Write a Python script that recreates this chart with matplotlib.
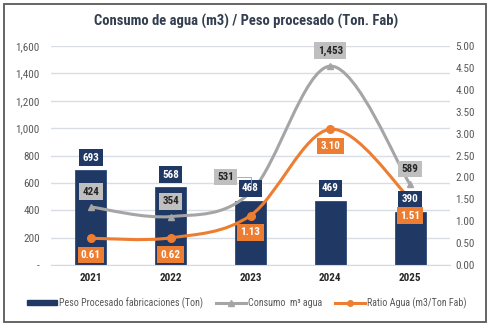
import numpy as np
import matplotlib
matplotlib.use("Agg")
import matplotlib.pyplot as plt
from matplotlib.path import Path
from matplotlib.patches import PathPatch, Rectangle
from matplotlib.lines import Line2D
from matplotlib.ticker import FuncFormatter, MultipleLocator

plt.rcParams["font.family"] = ["Roboto Condensed", "DejaVu Sans"]

years = ["2021", "2022", "2023", "2024", "2025"]
peso = [693, 568, 468, 469, 390]
consumo = [424, 354, 531, 1453, 589]
ratio = [0.61, 0.62, 1.13, 3.10, 1.51]

NAVY, GRAY, ORANGE = "#1F3864", "#A5A5A5", "#ED7D31"
TXT = "#595959"


def smooth_path(xs, ys):
    # excel-like smoothed line: catmull-rom as cubic beziers
    p = np.column_stack([xs, ys]).astype(float)
    n = len(p)
    verts, codes = [p[0]], [Path.MOVETO]
    for i in range(n - 1):
        p0 = p[i - 1] if i > 0 else p[i]
        p3 = p[i + 2] if i + 2 < n else p[i + 1]
        c1 = p[i] + (p[i + 1] - p0) / 6
        c2 = p[i + 1] - (p3 - p[i]) / 6
        verts += [c1, c2, p[i + 1]]
        codes += [Path.CURVE4] * 3
    return Path(verts, codes)


fig = plt.figure(figsize=(4.93, 3.26), dpi=100)
fig.patches.append(Rectangle((0.008, 0.012), 0.978, 0.976, transform=fig.transFigure,
                             fill=False, edgecolor="#595959", lw=1.3))
ax = fig.add_axes([51 / 493, 61 / 326, 399 / 493, 219 / 326])
ax2 = ax.twinx()

x = np.arange(len(years))
ax.bar(x, peso, width=0.39, color=NAVY, edgecolor="#2E4A7D", lw=0.6, zorder=2)
ax.add_patch(PathPatch(smooth_path(x, consumo), fill=False, edgecolor=GRAY, lw=2.2, zorder=3))
ax.plot(x, consumo, ls="none", marker="^", ms=4.5, color=GRAY, zorder=4)
ax2.add_patch(PathPatch(smooth_path(x, ratio), fill=False, edgecolor=ORANGE, lw=2.2, zorder=3))
ax2.plot(x, ratio, ls="none", marker="o", ms=5.5, color=ORANGE, zorder=4)

ax.set_xlim(-0.5, len(years) - 0.5)
ax.set_ylim(0, 1600)
ax2.set_ylim(0, 5)
ax.yaxis.set_major_locator(MultipleLocator(200))
ax2.yaxis.set_major_locator(MultipleLocator(0.5))
ax.yaxis.set_major_formatter(FuncFormatter(lambda v, p: "-" if v == 0 else f"{v:,.0f}"))
ax2.yaxis.set_major_formatter(FuncFormatter(lambda v, p: f"{v:.2f}"))
ax.set_xticks(x)
ax.set_xticklabels(years, fontweight="bold")
ax.grid(axis="y", color="#D9DDE6", lw=1)
ax.set_axisbelow(True)
for a in (ax, ax2):
    for s in a.spines.values():
        s.set_visible(False)
    a.tick_params(length=0, labelsize=8, labelcolor=TXT)
ax.spines["bottom"].set_visible(True)
ax.spines["bottom"].set_color("#D9D9D9")
ax.tick_params(axis="y", pad=8)
ax.tick_params(axis="x", labelcolor="#262626", pad=6)
ax2.tick_params(axis="y", pad=4)

# all data labels live on ax2 so they sit above both lines
lab = dict(ha="center", va="center", fontsize=8, fontweight="bold", textcoords="offset points")
for i, v in enumerate(peso):
    ax2.annotate(f"{v:,}", (x[i], v), xycoords=ax.transData, xytext=(0, 9), color="white", zorder=6,
                 bbox=dict(boxstyle="square,pad=0.3", fc=NAVY, ec="none"), **lab)
for i, v in enumerate(consumo):
    off = (-18, 11) if i == 2 else (0, 11)
    kw = {}
    if i == 2:
        kw["arrowprops"] = dict(arrowstyle="-", color="#8EA3BC", lw=0.6,
                                connectionstyle="angle,angleA=0,angleB=90,rad=0", shrinkA=0, shrinkB=3)
    ax2.annotate(f"{v:,}", (x[i], v), xycoords=ax.transData, xytext=off, color="#262626", zorder=7,
                 bbox=dict(boxstyle="square,pad=0.3", fc="#BFBFBF", ec="none"), **lab, **kw)
for i, v in enumerate(ratio):
    ax2.annotate(f"{v:.2f}", (x[i], v), xytext=(0, -12), color="white", zorder=8,
                 bbox=dict(boxstyle="square,pad=0.3", fc=ORANGE, ec="none"), **lab)

fig.text(0.5, 0.933, "Consumo de agua (m3) / Peso procesado (Ton. Fab)", ha="center", va="center",
         fontsize=10.5, fontweight="bold", color="#333F50")

handles = [Rectangle((0, 0), 1, 1, color=NAVY),
           Line2D([], [], color=GRAY, lw=2.2, marker="^", ms=4),
           Line2D([], [], color=ORANGE, lw=2.2, marker="o", ms=4)]
labels = ["Peso Procesado fabricaciones (Ton)", "Consumo  m³ agua", "Ratio Agua (m3/Ton Fab)"]
fig.legend(handles, labels, loc="center", bbox_to_anchor=(0.5, 0.07), ncol=3, frameon=False,
           fontsize=7.2, labelcolor=TXT, handlelength=3.0, handleheight=0.4, handletextpad=0.2,
           columnspacing=1.3)

fig.savefig("out.png", dpi=100)
